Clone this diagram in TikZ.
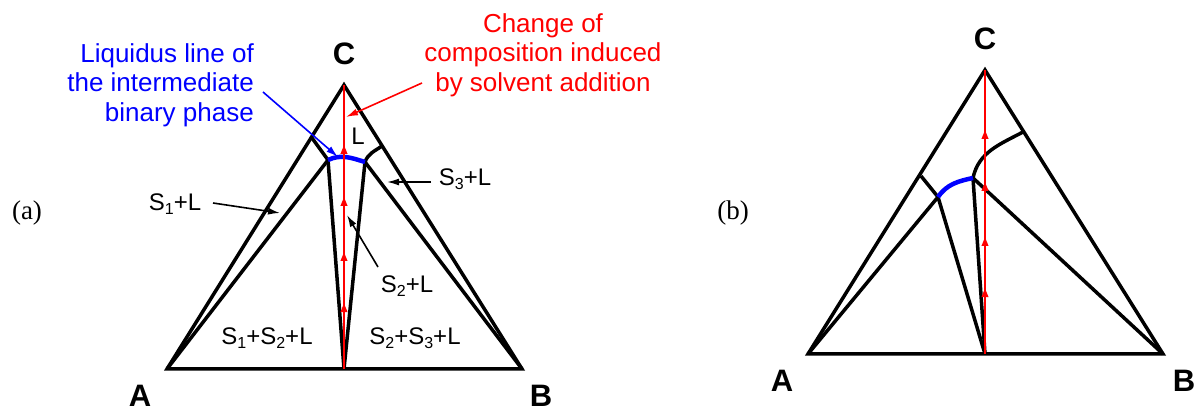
\documentclass[tikz,border=0pt]{standalone}
\usepackage{fontspec}
\setmainfont{Liberation Serif}
\newfontfamily\arialf{Liberation Sans}
\usetikzlibrary{arrows.meta,decorations.markings}
\newcommand\sbs[1]{\raisebox{-3.5pt}{\fontsize{16}{16}\selectfont #1}}
\begin{document}
\begin{tikzpicture}[x=1pt,y=1pt,
  edge/.style={line width=3.5pt},
  liq/.style={blue, line width=4.5pt},
  solv/.style={red, line width=2pt, postaction={decorate},
    decoration={markings,
      mark=at position 0.232 with {\arrow{Triangle[length=9pt,width=6.5pt]}},
      mark=at position 0.412 with {\arrow{Triangle[length=9pt,width=6.5pt]}},
      mark=at position 0.606 with {\arrow{Triangle[length=9pt,width=6.5pt]}},
      mark=at position 0.789 with {\arrow{Triangle[length=9pt,width=6.5pt]}}}},
  lab/.style={font=\arialf\fontsize{24}{28}\selectfont, inner sep=0pt, anchor=base},
  vtx/.style={font=\arialf\bfseries\fontsize{31}{34}\selectfont, inner sep=0pt, anchor=base},
  panel/.style={font=\fontsize{27}{30}\selectfont, inner sep=0pt},
  note/.style={-{Latex[length=12pt,width=7pt]}, line width=1.6pt},
  bignote/.style={font=\arialf\fontsize{26}{29.5}\selectfont, inner sep=0pt},
]
\useasboundingbox (0,0) rectangle (1199,412);

% ---------- panel (a) ----------
\coordinate (aA) at (167,43);
\coordinate (aB) at (522,43);
\coordinate (aC) at (344,327);
\coordinate (aM) at (344,43);
\coordinate (aP1) at (328,252);
\coordinate (aP2) at (365,250);
\coordinate (aLp) at (312,274);
\coordinate (aRp) at (382,266);

\draw[edge] (aA) -- (aB) -- (aC) -- cycle;
\draw[edge] (aA) -- (aP1);
\draw[edge] (aP1) -- (aM);
\draw[edge] (aP2) -- (aM);
\draw[edge] (aP2) -- (aB);
\draw[edge] (aP1) -- (aLp);
\draw[edge] (aP2) to[out=70,in=215] (aRp);
\draw[liq] (aP1) to[out=25,in=163] (aP2);
\draw[solv] (aM) -- (aC);

\node[vtx] (labA) at (140,5) {A};
\node[vtx] (labB) at (541,5) {B};
\node[vtx] (labC) at (344,347) {C};
\node[panel] (pa) at (27,199) {(a)};

\node[lab] (tL) at (358,267) {L};
\node[lab] (tS1L) at (175,201) {S\sbs{1}+L};
\node[lab] (tS3L) at (465,226) {S\sbs{3}+L};
\node[lab] (tS2L) at (407,119) {S\sbs{2}+L};
\node[lab] (tS12) at (267,67) {S\sbs{1}+S\sbs{2}+L};
\node[lab] (tS23) at (415,67) {S\sbs{2}+S\sbs{3}+L};

\coordinate (s1s) at (213,209);
\coordinate (s1e) at (280,199);
\coordinate (s3s) at (431,230);
\coordinate (s3e) at (387,230);
\coordinate (s2s) at (378,145);
\coordinate (s2e) at (347,197);
\draw[note] (s1s) -- (s1e);
\draw[note] (s3s) -- (s3e);
\draw[note] (s2s) -- (s2e);

\node[bignote, blue, align=right, anchor=east] (tliq) at (254,327)
  {Liquidus line of\\the intermediate\\binary phase};
\node[bignote, red, align=center] (tchg) at (543,357)
  {Change of\\composition induced\\by solvent addition};
\coordinate (bls) at (263,320);
\coordinate (ble) at (338,255);
\coordinate (rds) at (422,329);
\coordinate (rde) at (346,295);
\draw[note, blue] (bls) -- (ble);
\draw[note, red] (rds) -- (rde);

% ---------- panel (b) ----------
\coordinate (bA) at (808,58);
\coordinate (bB) at (1163,58);
\coordinate (bC) at (985,342);
\coordinate (bM) at (985,58);
\coordinate (bP1) at (938,215);
\coordinate (bP2) at (973,234);
\coordinate (bLp) at (921,236);
\coordinate (bRp) at (1023,280);

\draw[edge] (bA) -- (bB) -- (bC) -- cycle;
\draw[edge] (bA) -- (bP1);
\draw[edge] (bP1) -- (bM);
\draw[edge] (bP2) -- (bM);
\draw[edge] (bP2) -- (bB);
\draw[edge] (bP1) -- (bLp);
\draw[edge] (bP2) to[out=78,in=208] (bRp);
\draw[solv] (bM) -- (bC);
\draw[liq] (bP1) to[out=55,in=192] (bP2);

\node[vtx] (labbA) at (782,20) {A};
\node[vtx] (labbB) at (1184,20) {B};
\node[vtx] (labbC) at (985,362) {C};
\node[panel] (pb) at (733,199) {(b)};
\end{tikzpicture}
\end{document}
